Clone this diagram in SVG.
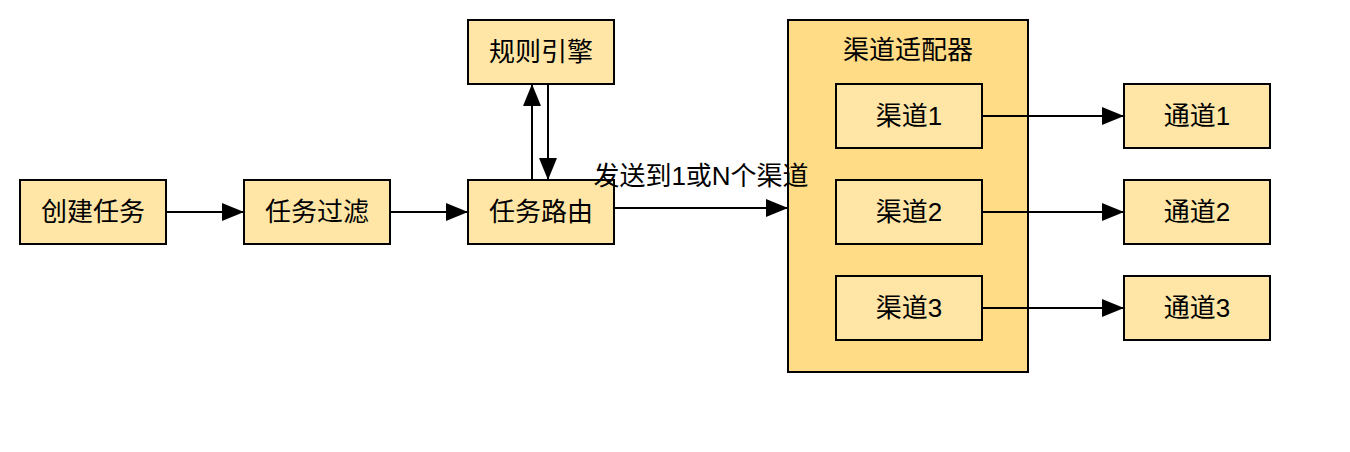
<svg xmlns="http://www.w3.org/2000/svg" width="1350" height="452" viewBox="0 0 1350 452">
<style>
.n{fill:#FFE6A6;stroke:#000;stroke-width:2}
.c{fill:#FFDC85;stroke:#000;stroke-width:2}
.t{font-family:"Liberation Sans","Noto Sans CJK SC",sans-serif;font-size:26px;fill:#000;text-anchor:middle;dominant-baseline:central}
.e{stroke:#000;stroke-width:2;fill:none;marker-end:url(#a)}
</style>
<defs>
<marker id="a" markerUnits="userSpaceOnUse" markerWidth="24" markerHeight="20" refX="22" refY="9" orient="auto">
<path d="M0,0 L22,9 L0,18 Z" fill="#000"/>
</marker>
</defs>
<rect width="1350" height="452" fill="#fff"/>
<g id="adapter">
<rect class="c" x="788" y="20" width="240" height="352"/>
<text class="t" x="908" y="50">渠道适配器</text>
</g>
<g id="create"><rect class="n" x="20" y="180" width="146" height="64"/><text class="t" x="93" y="212">创建任务</text></g>
<g id="filter"><rect class="n" x="244" y="180" width="146" height="64"/><text class="t" x="317" y="212">任务过滤</text></g>
<g id="route"><rect class="n" x="468" y="180" width="146" height="64"/><text class="t" x="541" y="212">任务路由</text></g>
<g id="rules"><rect class="n" x="468" y="20" width="146" height="64"/><text class="t" x="541" y="52">规则引擎</text></g>
<g id="ch1"><rect class="n" x="836" y="84" width="146" height="64"/><text class="t" x="909" y="116">渠道1</text></g>
<g id="ch2"><rect class="n" x="836" y="180" width="146" height="64"/><text class="t" x="909" y="212">渠道2</text></g>
<g id="ch3"><rect class="n" x="836" y="276" width="146" height="64"/><text class="t" x="909" y="308">渠道3</text></g>
<g id="out1"><rect class="n" x="1124" y="84" width="146" height="64"/><text class="t" x="1197" y="116">通道1</text></g>
<g id="out2"><rect class="n" x="1124" y="180" width="146" height="64"/><text class="t" x="1197" y="212">通道2</text></g>
<g id="out3"><rect class="n" x="1124" y="276" width="146" height="64"/><text class="t" x="1197" y="308">通道3</text></g>
<g id="connectors">
<path class="e" d="M166,212 H244"/>
<path class="e" d="M390,212 H468"/>
<path class="e" d="M532,180 V84"/>
<path class="e" d="M548,84 V180"/>
<path class="e" d="M614,208 H788"/>
<path class="e" d="M982,116 H1124"/>
<path class="e" d="M982,212 H1124"/>
<path class="e" d="M982,308 H1124"/>
<text class="t" x="701" y="176">发送到1或N个渠道</text>
</g>
</svg>
